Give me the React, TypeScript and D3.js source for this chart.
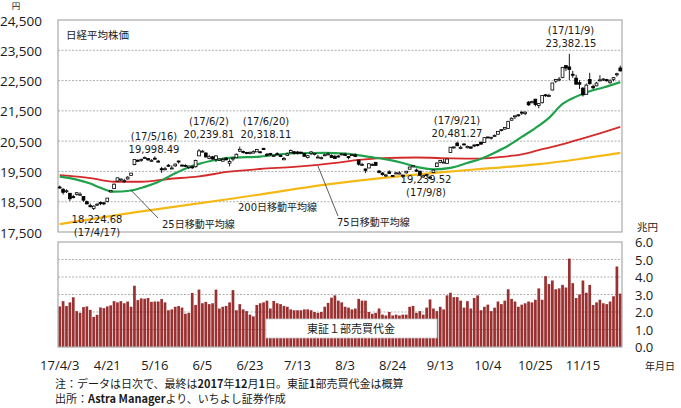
import React from "react";
import * as d3 from "d3";

// ---- Data (Nikkei 225 daily, 2017/4/3 - 2017/12/1, 166 trading days) ----
const openP = [
  18985,18911,18832,18779,18668,18744,18738,18669,18501,18371,18280,18406,18478,18462,18504,18824,18931,19183,19248,19189,
  19251,19371,19725,19868,19876,19938,19925,19834,19937,19841,19590,19564,19704,19603,19684,19845,19711,19700,19626,19652,
  19654,20014,20160,20109,19926,19982,19900,19863,19840,19941,19772,19909,19953,20169,20160,20127,20096,20106,20146,20149,20264,20067,
  20097,20025,20085,20040,19884,20030,20120,20149,20142,20136,20092,19963,20099,20063,19968,19920,20027,20046,20030,19990,
  20009,20061,20068,19996,20038,20046,19876,19714,19582,19613,19713,19800,19513,19449,19373,19485,19366,19424,19413,19376,19452,19574,
  19652,19546,19511,19315,19379,19313,19464,19658,19802,19805,19763,20125,20301,20437,20254,20408,20283,20310,20372,20391,
  20464,20458,20637,20601,20661,20729,20858,20898,20921,21191,21315,21370,21459,21407,21787,21769,21886,21680,21768,22031,21987,
  22188,22479,22544,22601,22993,22950,22709,22581,22431,22250,22046,22536,22309,22327,22507,22540,22531,22428,22542,22704,22916,
];
const highP = [
  19034,18946,18908,18781,18729,18816,18812,18672,18537,18440,18373,18446,18505,18495,18620,18875,19101,19289,19254,19256,
  19341,19445,19896,19901,19920,19991,19931,19904,19998.49,19880,19649,19650,19742,19699,19758,19857,19728,19736,19689,19694,
  19888,20239.81,20203,20127,20050,20013,20031,19938,19949,19959,19902,19966,20090,20318.11,20191,20149,20153,20193,20244,20163,20265,20105,
  20097,20045,20133,20042,19977,20120,20223,20171,20170,20154,20092,20037,20175,20108,20046,19991,20071,20129,20057,20049,
  20032,20086,20116,20007,20063,20093,19886,19786,19592,19771,19770,19812,19550,19474,19409,19539,19375,19482,19501,19400,19516,19651,
  19698,19595,19513,19378,19419,19362,19569,19800,19874,19907,19909,20306,20318,20481.27,20353,20420,20354,20320,20391,20398,
  20487,20624,20646,20631,20721,20826,20895,20956,21155,21283,21336,21384,21480,21482,21824,21835,21886,21745,22015,22052,22067,
  22420,22539,22614,22937,23011,23382.15,22823,22692,22513,22283,22404,22757,22368,22458,22677,22575,22558,22547,22613,22759,22994,
];
const lowP = [
  18935,18737,18787,18517,18611,18703,18702,18498,18418,18313,18224.68,18356,18387,18383,18479,18814,18929,19160,19183,19120,
  19228,19353,19701,19812,19817,19918,19845,19820,19888,19793,19449,19532,19654,19589,19654,19758,19651,19663,19578,19579,
  19629,20006,20137,19959,19904,19887,19812,19845,19821,19866,19665,19837,19950,20138,20090,20066,20063,20101,20146,20099,20207,19999,
  20013,19978,20052,19975,19874,20020,20107,20058,20060,20075,19985,19928,20036,20030,19957,19898,20005,20035,19944,19924,
  19960,20030,20016,19900,20026,19975,19688,19693,19450,19612,19702,19683,19436,19363,19312,19419,19318,19406,19412,19280,19429,19567,
  19635,19487,19373,19289,19334,19239.52,19445,19658,19769,19783,19751,20118,20252,20343,20234,20358,20261,20253,20300,20323,
  20391,20452,20600,20552,20657,20714,20821,20871,20904,21183,21226,21311,21364,21357,21668,21745,21650,21584,21747,21960,21964,
  22179,22421,22474,22578,22814,22518,22591,22380,22222,21972,22032,22364,22214,22312,22474,22484,22459,22400,22474,22630,22800,
];
const closeP = [
  18983,18810,18861,18597,18664,18797,18747,18552,18426,18335,18355,18418,18432,18430,18620,18875,19079,19289,19251,19196,
  19310,19445,19895,19843,19900,19961,19883,19869,19919,19814,19553,19590,19678,19613,19742,19813,19686,19682,19677,19650,
  19860,20177,20170,19979,19984,19909,20013,19908,19898,19883,19831,19943,20067,20230,20138,20110,20132,20153,20225,20130,20220,20033,
  20055,20032,20081,19994,19929,20080,20195,20098,20099,20118,20000,20020,20144,20099,19975,19955,20050,20079,19959,19925,
  19985,20080,20029,19952,20055,19996,19738,19729,19537,19753,19729,19702,19470,19393,19383,19434,19353,19452,19449,19362,19506,19646,
  19691,19508,19385,19357,19396,19275,19545,19776,19865,19807,19909,20299,20310,20347,20296,20397,20330,20267,20363,20356,
  20400,20614,20626,20628,20690,20823,20881,20954,21155,21255,21336,21363,21448,21457,21697,21805,21707,21739,22008,22011,22011,
  22420,22539,22548,22937,22913,22868,22681,22380,22380,22028,22351,22397,22261,22416,22523,22550,22495,22486,22597,22724,22819,
];
// 東証1部売買代金 (兆円)
const volume = [
  2.32,2.62,2.34,2.55,2.84,2.05,1.95,2.28,2.32,2.12,1.72,1.84,2.26,2.22,2.32,2.38,2.62,2.55,2.62,2.5,
  2.6,2.3,3.5,2.68,2.78,2.76,2.8,2.58,2.6,2.6,2.74,2.55,2.1,2.15,2.3,2.34,2.25,1.9,1.95,3.09,
  2.4,3.28,2.5,2.58,2.45,2.5,3.28,2.2,2.3,2.35,2.55,3.25,2.1,2.45,2.15,2.05,1.85,1.75,2.4,2.5,2.55,2.65,
  2.2,2.63,2.5,2.45,2.35,2.3,2.15,2.1,2.1,2.1,2.15,2.15,2.1,2.0,1.95,2.0,2.3,2.52,2.82,2.95,
  2.65,2.55,2.3,2.25,2.15,2.2,2.75,2.65,2.65,2.0,1.9,1.95,2.2,1.85,1.8,2.0,1.8,1.85,1.8,1.85,1.85,2.3,
  2.35,1.95,2.05,1.85,2.25,2.72,2.2,2.05,2.3,2.15,2.95,3.1,2.85,2.85,2.65,2.25,2.62,2.2,2.8,2.95,
  2.1,2.3,2.42,2.05,2.25,2.6,2.45,2.65,3.3,2.75,2.6,2.3,2.42,2.5,2.6,2.55,2.7,3.35,2.7,4.05,3.6,
  3.8,3.3,3.35,3.55,3.4,5.05,3.65,2.8,3.0,3.8,3.1,3.55,2.4,2.55,2.7,2.5,2.45,2.6,2.9,4.6,3.05,
];
// moving averages: [trading-day index, value]
const ma25: [number, number][] = [
  [0,19330],[5,19230],[9,19100],[12,18960],[16,18830],[21,18870],[25,18990],[29,19150],[34,19440],[38,19640],
  [41,19750],[45,19860],[50,19950],[59,19990],[69,20100],[78,20110],[84,20090],[91,19980],[97,19880],[101,19780],
  [105,19650],[110,19570],[115,19620],[120,19780],[124,19920],[128,20120],[132,20350],[136,20640],[140,20930],
  [144,21270],[148,21730],[152,21970],[156,22150],[160,22270],[165,22450],
];
const ma75: [number, number][] = [
  [0,19380],[9,19280],[16,19160],[24,19160],[32,19250],[41,19340],[50,19490],[59,19580],[69,19650],[82,19790],
  [88,19880],[95,19940],[105,19960],[115,19930],[122,19920],[130,19980],[136,20060],[141,20200],[147,20370],
  [153,20560],[159,20760],[165,20970],
];
const ma200: [number, number][] = [
  [0,17760],[21,18130],[50,18590],[80,19090],[112,19470],[125,19590],[141,19740],[153,19910],[165,20110],
];
const priceTicks = [17500, 18500, 19500, 20500, 21500, 22500, 23500, 24500];
const volTicks = [0, 1, 2, 3, 4, 5, 6];
const xTickIndex = [0, 14, 28, 42, 56, 70, 84, 98, 112, 126, 140, 154];
const xTickLabels = ["17/4/3", "4/21", "5/16", "6/5", "6/23", "7/13", "8/3", "8/24", "9/13", "10/4", "10/25", "11/15"];
const annotations = [
  { i: 150, cx: 571, top: "(17/11/9)", bottom: "23,382.15", y: 34 },
  { i: 117, cx: 457, top: "(17/9/21)", bottom: "20,481.27", y: 124 },
  { i: 53, cx: 266, top: "(17/6/20)", bottom: "20,318.11", y: 125 },
  { i: 41, cx: 209, top: "(17/6/2)", bottom: "20,239.81", y: 125 },
  { i: 28, cx: 154, top: "(17/5/16)", bottom: "19,998.49", y: 140 },
  { i: 10, cx: 97, top: "18,224.68", bottom: "(17/4/17)", y: 223 },
  { i: 109, cx: 426, top: "19,239.52", bottom: "(17/9/8)", y: 183 },
];

const W = 681, H = 408;
const L = 58, R = 622;
const PT = 20, PB = 232;
const VT = 242, VB = 347;
const NUM = "'Open Sans', 'Noto Sans CJK JP', sans-serif";
const ANN = "'DejaVu Sans', 'Noto Sans CJK JP', sans-serif";
const JP = "'Noto Sans CJK JP', sans-serif";

export default function App() {
  const n = closeP.length;
  const x = d3.scaleBand<number>().domain(d3.range(n)).range([L, R]).padding(0);
  const bw = x.bandwidth();
  const xc = (i: number) => (x(i) as number) + bw / 2;
  const y = d3.scaleLinear().domain([17500, 24500]).range([PB, PT]);
  const yv = d3.scaleLinear().domain([0, 6]).range([VB, VT]);
  const line = d3
    .line<[number, number]>()
    .x((d) => xc(d[0]))
    .y((d) => y(d[1]))
    .curve(d3.curveMonotoneX);
  const bodyW = 2.8;
  const gridColor = "#9a9a9a";
  const border = "#a9a9a9";
  const txt = "#1a1a1a";

  return (
    <svg
      width={W}
      height={H}
      viewBox={`0 0 ${W} ${H}`}
      style={{ position: "absolute", left: 0, top: 0, background: "#fff" }}
    >
      <rect x={0} y={0} width={W} height={H} fill="#fff" />
      {/* price panel grid */}
      {priceTicks.slice(1, -1).map((v) => (
        <line key={v} x1={L} x2={R} y1={y(v)} y2={y(v)} stroke={gridColor} strokeWidth={0.8} strokeDasharray="2,1.5" />
      ))}
      <rect x={L} y={PT} width={R - L} height={PB - PT} fill="none" stroke={border} strokeWidth={1.2} />
      {priceTicks.map((v) => (
        <text key={v} x={42} y={y(v) + 5.5} textAnchor="end" fontFamily={NUM} fontSize={13.5} fill={txt}>
          {d3.format(",")(v)}
        </text>
      ))}
      <text x={16} y={9} textAnchor="middle" fontFamily={JP} fontSize={8.5} fill={txt}>円</text>
      <text x={66} y={39} fontFamily={JP} fontSize={10.5} fill={txt}>日経平均株価</text>

      {/* moving averages */}
      <path d={line(ma200) || ""} fill="none" stroke="#f5b915" strokeWidth={2.2} />
      <path d={line(ma75) || ""} fill="none" stroke="#d42a2a" strokeWidth={1.8} />
      <path d={line(ma25) || ""} fill="none" stroke="#1fa24b" strokeWidth={2.2} />

      {/* candles */}
      {closeP.map((c, i) => {
        const o = openP[i];
        const cx = xc(i);
        const top = y(Math.max(o, c));
        const h = Math.max(1, Math.abs(y(o) - y(c)));
        const up = c >= o;
        return (
          <g key={i}>
            <line x1={cx} x2={cx} y1={y(highP[i])} y2={y(lowP[i])} stroke="#000" strokeWidth={0.9} />
            <rect x={cx - bodyW / 2} y={top} width={bodyW} height={h} fill={up ? "#fff" : "#000"} stroke="#000" strokeWidth={0.8} />
          </g>
        );
      })}

      {/* annotations */}
      {annotations.map((a) => (
        <g key={a.i} fontFamily={ANN} fontSize={10} fill={txt} textAnchor="middle">
          <text x={a.cx} y={a.y}>{a.top}</text>
          <text x={a.cx} y={a.y + 13}>{a.bottom}</text>
        </g>
      ))}
      {/* MA labels */}
      <line x1={xc(21)} y1={y(18880)} x2={158} y2={218} stroke="#333" strokeWidth={0.8} />
      <line x1={xc(76)} y1={y(19680)} x2={338} y2={216} stroke="#333" strokeWidth={0.8} />
      <text x={162} y={228} fontFamily={ANN} fontSize={10} fill={txt}>25日移動平均線</text>
      <text x={238} y={211} fontFamily={ANN} fontSize={10} fill={txt}>200日移動平均線</text>
      <text x={337} y={226} fontFamily={ANN} fontSize={10} fill={txt}>75日移動平均線</text>

      {/* volume panel */}
      {volTicks.slice(1, -1).map((v) => (
        <line key={v} x1={L} x2={R} y1={yv(v)} y2={yv(v)} stroke={gridColor} strokeWidth={0.8} strokeDasharray="2,1.5" />
      ))}
      {volume.map((v, i) => (
        <rect key={i} x={(x(i) as number) + 0.35} y={yv(v)} width={bw - 0.7} height={yv(0) - yv(v)} fill="#9b3030" />
      ))}
      <rect x={L} y={VT} width={R - L} height={VB - VT} fill="none" stroke={border} strokeWidth={1.2} />
      <rect x={266} y={319} width={171} height={19} fill="#fff" stroke="#c8c8c8" strokeWidth={0.8} />
      <text x={351} y={333} textAnchor="middle" fontFamily={JP} fontSize={11} fill={txt}>東証１部売買代金</text>
      {volTicks.map((v) => (
        <text key={v} x={635} y={yv(v) + 5} fontFamily={NUM} fontSize={13} fill={txt}>
          {d3.format(".1f")(v)}
        </text>
      ))}
      <text x={637} y={231} fontFamily={JP} fontSize={10.5} fill={txt}>兆円</text>

      {/* x axis labels */}
      {xTickIndex.map((ti, k) => (
        <text key={ti} x={xc(ti)} y={370} textAnchor="middle" fontFamily={NUM} fontSize={13} fill={txt}>
          {xTickLabels[k]}
        </text>
      ))}
      <text x={645} y={370} fontFamily={JP} fontSize={10} fill={txt}>年月日</text>

      {/* footnotes */}
      <text x={55} y={388} fontFamily={JP} fontSize={11} fill={txt}>
        注：データは日次で、最終は<tspan fontWeight="bold">2017</tspan>年<tspan fontWeight="bold">12</tspan>月<tspan fontWeight="bold">1</tspan>日。東証<tspan fontWeight="bold">1</tspan>部売買代金は概算
      </text>
      <text x={55} y={403} fontFamily={JP} fontSize={11} fill={txt}>
        出所：<tspan fontWeight="bold">Astra Manager</tspan>より、いちよし証券作成
      </text>
    </svg>
  );
}
